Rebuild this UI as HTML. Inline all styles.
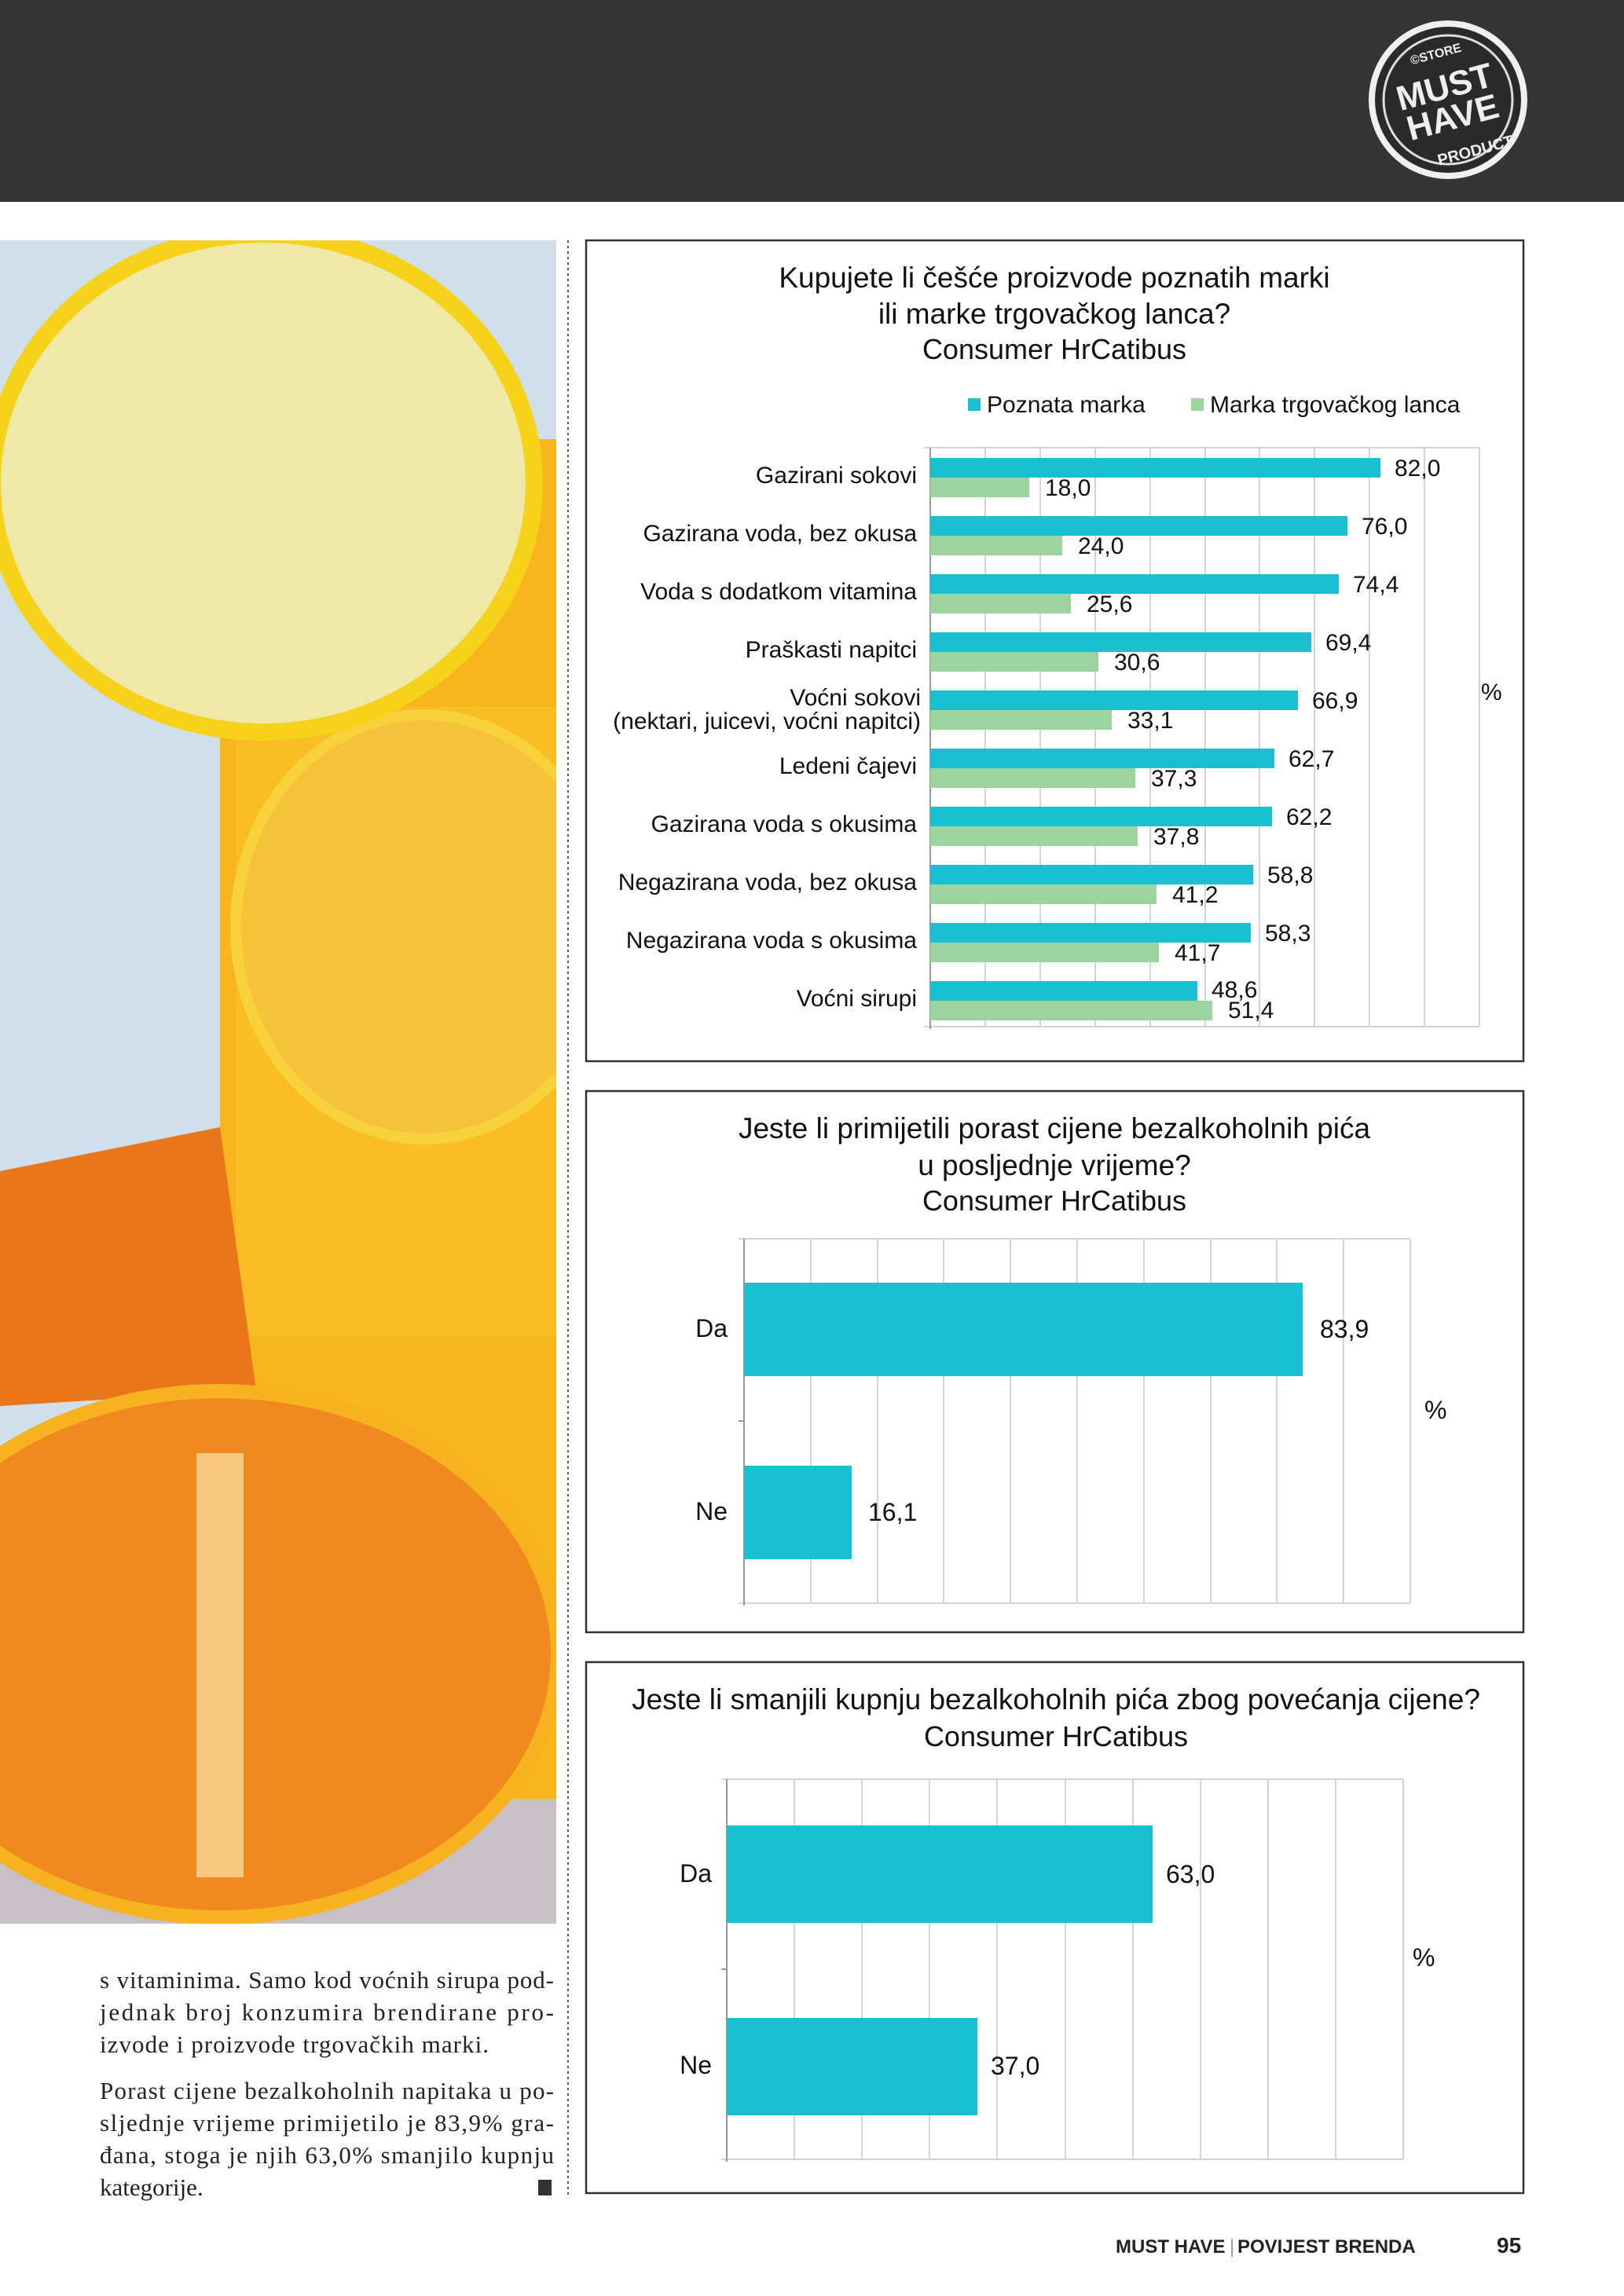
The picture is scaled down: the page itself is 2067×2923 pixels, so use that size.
<!DOCTYPE html>
<html><head><meta charset="utf-8"><style>html,body{margin:0;padding:0;background:#fff}svg{display:block}</style></head>
<body>
<svg width="2067" height="2923" viewBox="0 0 2067 2923" xmlns="http://www.w3.org/2000/svg" font-family="Liberation Sans, sans-serif">
<defs><clipPath id="ph"><rect x="0" y="306" width="708" height="2143"/></clipPath></defs>
<rect x="0" y="0" width="2067" height="2923" fill="#fff"/>
<!-- header -->
<rect x="0" y="0" width="2067" height="257" fill="#353535"/>
<circle cx="1843" cy="127" r="97" fill="#2a2a2a" stroke="#f0f0f0" stroke-width="8"/>
<circle cx="1843" cy="127" r="82" fill="none" stroke="#ddd" stroke-width="3"/>
<text x="1843" y="125" font-size="44" font-weight="bold" fill="#eee" text-anchor="middle" transform="rotate(-15 1843 127)">MUST</text>
<text x="1843" y="165" font-size="44" font-weight="bold" fill="#eee" text-anchor="middle" transform="rotate(-15 1843 127)">HAVE</text>
<text x="1843" y="72" font-size="16" font-weight="bold" fill="#eee" text-anchor="middle" transform="rotate(-15 1843 127)">©STORE</text>
<text x="1860" y="205" font-size="20" font-weight="bold" fill="#eee" text-anchor="middle" transform="rotate(-15 1843 127)">PRODUCT</text>
<!-- photo -->
<g clip-path="url(#ph)">
<rect x="0" y="306" width="708" height="2143" fill="#cfe0ea"/>
<rect x="280" y="559" width="428" height="1890" fill="#f7b51e"/>
<rect x="300" y="900" width="408" height="800" fill="#f9be24"/>
<ellipse cx="540" cy="1180" rx="240" ry="270" fill="#f6c23a" stroke="#f8d23c" stroke-width="14"/>
<ellipse cx="335" cy="615" rx="345" ry="317" fill="#eee9a8" stroke="#f6d21a" stroke-width="22"/>
<polygon points="0,1491 280,1435 326,1770 0,1790" fill="#ea761c"/>
<rect x="0" y="2290" width="708" height="159" fill="#c9bfc7"/>
<ellipse cx="280" cy="2106" rx="430" ry="335" fill="#f08a1e" stroke="#f7b21f" stroke-width="18"/>
<rect x="250" y="1850" width="60" height="540" fill="#f6c880"/>
</g>
<!-- dotted line -->
<line x1="723" y1="306" x2="723" y2="2795" stroke="#555" stroke-width="2" stroke-dasharray="3,4"/>
<!-- body text -->
<g font-family="Liberation Serif, serif" font-size="31" fill="#222">
<text x="127" y="2531" textLength="578" lengthAdjust="spacing">s vitaminima. Samo kod voćnih sirupa pod-</text>
<text x="127" y="2572" textLength="578" lengthAdjust="spacing">jednak  broj  konzumira  brendirane  pro-</text>
<text x="127" y="2613" textLength="495" lengthAdjust="spacing">izvode i proizvode trgovačkih marki.</text>
<text x="127" y="2672" textLength="578" lengthAdjust="spacing">Porast cijene bezalkoholnih napitaka u po-</text>
<text x="127" y="2713" textLength="578" lengthAdjust="spacing">sljednje vrijeme primijetilo je  83,9% gra-</text>
<text x="127" y="2754" textLength="578" lengthAdjust="spacing">đana, stoga je njih 63,0% smanjilo kupnju</text>
<text x="127" y="2795">kategorije.</text>
</g>
<rect x="685" y="2775" width="17" height="20" fill="#333"/>
<!-- footer -->
<text x="1420" y="2868" font-size="24" font-weight="bold" fill="#222">MUST HAVE</text>
<text x="1565" y="2868" font-size="24" fill="#999">|</text>
<text x="1575" y="2868" font-size="24" font-weight="bold" fill="#222">POVIJEST BRENDA</text>
<text x="1905" y="2868" font-size="28" font-weight="bold" fill="#222">95</text>

<!-- CHART 1 -->
<rect x="746" y="306" width="1193" height="1045" fill="#fff" stroke="#333" stroke-width="2.5"/>
<g font-size="37" fill="#111" text-anchor="middle">
<text x="1342" y="366">Kupujete li češće proizvode poznatih marki</text>
<text x="1342" y="412">ili marke trgovačkog lanca?</text>
<text x="1342" y="457" font-size="36">Consumer HrCatibus</text>
</g>
<rect x="1232" y="507" width="16" height="16" fill="#1bbfd2"/>
<text x="1256" y="525" font-size="30" fill="#111">Poznata marka</text>
<rect x="1516" y="507" width="16" height="16" fill="#9cd49e"/>
<text x="1540" y="525" font-size="30" fill="#111">Marka trgovačkog lanca</text>
<g stroke="#d4d4d4" stroke-width="2">
<line x1="1254" y1="570" x2="1254" y2="1307"/><line x1="1324" y1="570" x2="1324" y2="1307"/><line x1="1394" y1="570" x2="1394" y2="1307"/><line x1="1464" y1="570" x2="1464" y2="1307"/><line x1="1534" y1="570" x2="1534" y2="1307"/><line x1="1603" y1="570" x2="1603" y2="1307"/><line x1="1673" y1="570" x2="1673" y2="1307"/><line x1="1743" y1="570" x2="1743" y2="1307"/><line x1="1813" y1="570" x2="1813" y2="1307"/><line x1="1883" y1="570" x2="1883" y2="1307"/>
<line x1="1176" y1="570" x2="1883" y2="570"/><line x1="1176" y1="1307" x2="1883" y2="1307"/>
</g>
<line x1="1184" y1="570" x2="1184" y2="1310" stroke="#999" stroke-width="2"/>
<g fill="#1bbfd2">
<rect x="1184" y="583" width="573" height="25"/><rect x="1184" y="657" width="531" height="25"/><rect x="1184" y="731" width="520" height="25"/><rect x="1184" y="805" width="485" height="25"/><rect x="1184" y="879" width="468" height="25"/><rect x="1184" y="953" width="438" height="25"/><rect x="1184" y="1027" width="435" height="25"/><rect x="1184" y="1101" width="411" height="25"/><rect x="1184" y="1175" width="408" height="25"/><rect x="1184" y="1249" width="340" height="25"/>
</g>
<g fill="#9cd49e">
<rect x="1184" y="608" width="126" height="25"/><rect x="1184" y="682" width="168" height="25"/><rect x="1184" y="756" width="179" height="25"/><rect x="1184" y="830" width="214" height="25"/><rect x="1184" y="904" width="231" height="25"/><rect x="1184" y="978" width="261" height="25"/><rect x="1184" y="1052" width="264" height="25"/><rect x="1184" y="1126" width="288" height="25"/><rect x="1184" y="1200" width="291" height="25"/><rect x="1184" y="1274" width="359" height="25"/>
</g>
<g font-size="30" fill="#111">
<text x="1775" y="606">82,0</text><text x="1733" y="680">76,0</text><text x="1722" y="754">74,4</text><text x="1687" y="828">69,4</text><text x="1670" y="902">66,9</text><text x="1640" y="976">62,7</text><text x="1637" y="1050">62,2</text><text x="1613" y="1124">58,8</text><text x="1610" y="1198">58,3</text><text x="1542" y="1270">48,6</text>
<text x="1330" y="631">18,0</text><text x="1372" y="705">24,0</text><text x="1383" y="779">25,6</text><text x="1418" y="853">30,6</text><text x="1435" y="927">33,1</text><text x="1465" y="1001">37,3</text><text x="1468" y="1075">37,8</text><text x="1492" y="1149">41,2</text><text x="1495" y="1223">41,7</text><text x="1563" y="1296">51,4</text>
<text x="1885" y="891">%</text>
</g>
<g font-size="30" fill="#111" text-anchor="end">
<text x="1167" y="615">Gazirani sokovi</text>
<text x="1167" y="689">Gazirana voda, bez okusa</text>
<text x="1167" y="763">Voda s dodatkom vitamina</text>
<text x="1167" y="837">Praškasti napitci</text>
<text x="1172" y="898">Voćni sokovi</text>
<text x="1172" y="928">(nektari, juicevi, voćni napitci)</text>
<text x="1167" y="985">Ledeni čajevi</text>
<text x="1167" y="1059">Gazirana voda s okusima</text>
<text x="1167" y="1133">Negazirana voda, bez okusa</text>
<text x="1167" y="1207">Negazirana voda s okusima</text>
<text x="1167" y="1281">Voćni sirupi</text>
</g>

<!-- CHART 2 -->
<rect x="746" y="1389" width="1193" height="689" fill="#fff" stroke="#333" stroke-width="2.5"/>
<g font-size="37" fill="#111" text-anchor="middle">
<text x="1342" y="1449">Jeste li primijetili porast cijene bezalkoholnih pića</text>
<text x="1342" y="1496">u posljednje vrijeme?</text>
<text x="1342" y="1541" font-size="36">Consumer HrCatibus</text>
</g>
<g stroke="#d4d4d4" stroke-width="2">
<line x1="1032" y1="1577" x2="1032" y2="2041"/><line x1="1117" y1="1577" x2="1117" y2="2041"/><line x1="1201" y1="1577" x2="1201" y2="2041"/><line x1="1286" y1="1577" x2="1286" y2="2041"/><line x1="1371" y1="1577" x2="1371" y2="2041"/><line x1="1456" y1="1577" x2="1456" y2="2041"/><line x1="1541" y1="1577" x2="1541" y2="2041"/><line x1="1625" y1="1577" x2="1625" y2="2041"/><line x1="1710" y1="1577" x2="1710" y2="2041"/><line x1="1795" y1="1577" x2="1795" y2="2041"/>
<line x1="940" y1="1577" x2="1795" y2="1577"/><line x1="940" y1="2041" x2="1795" y2="2041"/>
</g>
<line x1="947" y1="1577" x2="947" y2="2044" stroke="#999" stroke-width="2"/>
<line x1="940" y1="1809" x2="947" y2="1809" stroke="#999" stroke-width="2"/>
<rect x="947" y="1633" width="711" height="119" fill="#1bbfd2"/>
<rect x="947" y="1866" width="137" height="119" fill="#1bbfd2"/>
<g font-size="32" fill="#111">
<text x="1680" y="1703">83,9</text><text x="1105" y="1936">16,1</text><text x="1813" y="1806">%</text>
<text x="926" y="1702" text-anchor="end">Da</text><text x="926" y="1935" text-anchor="end">Ne</text>
</g>

<!-- CHART 3 -->
<rect x="746" y="2116" width="1193" height="676" fill="#fff" stroke="#333" stroke-width="2.5"/>
<g font-size="37" fill="#111" text-anchor="middle">
<text x="1344" y="2176">Jeste li smanjili kupnju bezalkoholnih pića zbog povećanja cijene?</text>
<text x="1344" y="2223" font-size="36">Consumer HrCatibus</text>
</g>
<g stroke="#d4d4d4" stroke-width="2">
<line x1="1011" y1="2265" x2="1011" y2="2749"/><line x1="1097" y1="2265" x2="1097" y2="2749"/><line x1="1183" y1="2265" x2="1183" y2="2749"/><line x1="1269" y1="2265" x2="1269" y2="2749"/><line x1="1356" y1="2265" x2="1356" y2="2749"/><line x1="1442" y1="2265" x2="1442" y2="2749"/><line x1="1528" y1="2265" x2="1528" y2="2749"/><line x1="1614" y1="2265" x2="1614" y2="2749"/><line x1="1700" y1="2265" x2="1700" y2="2749"/><line x1="1786" y1="2265" x2="1786" y2="2749"/>
<line x1="918" y1="2265" x2="1786" y2="2265"/><line x1="918" y1="2749" x2="1786" y2="2749"/>
</g>
<line x1="925" y1="2265" x2="925" y2="2752" stroke="#999" stroke-width="2"/>
<line x1="918" y1="2507" x2="925" y2="2507" stroke="#999" stroke-width="2"/>
<rect x="925" y="2324" width="542" height="124" fill="#1bbfd2"/>
<rect x="925" y="2569" width="319" height="124" fill="#1bbfd2"/>
<g font-size="32" fill="#111">
<text x="1484" y="2397">63,0</text><text x="1261" y="2641">37,0</text><text x="1798" y="2503">%</text>
<text x="906" y="2396" text-anchor="end">Da</text><text x="906" y="2640" text-anchor="end">Ne</text>
</g>
</svg>
</body></html>
